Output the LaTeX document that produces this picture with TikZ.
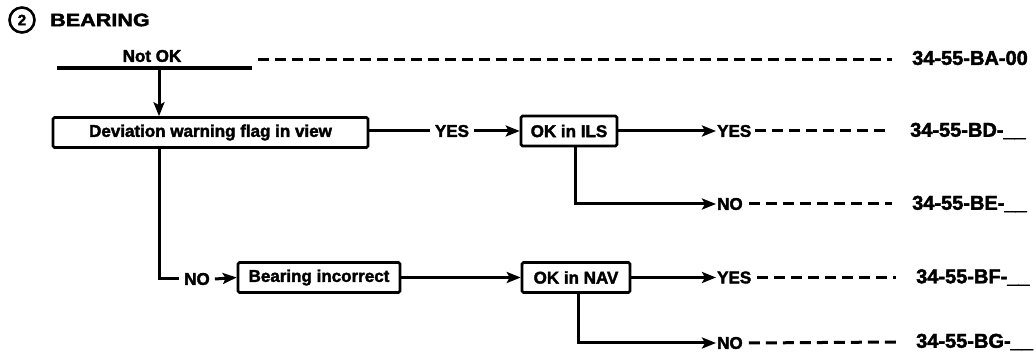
\documentclass[tikz,border=0pt]{standalone}
\usepackage{fontspec}
\setmainfont{Liberation Sans}
\newcommand{\hvy}{\bfseries\addfontfeature{FakeBold=2.2}}
\usepackage{tikz}
\usetikzlibrary{arrows.meta, positioning}
\tikzset{
  tbox/.style={draw, line width=2.6pt, rounded corners=1.5pt, inner sep=0pt,
    minimum height=30pt, font=\fontsize{17}{20}\selectfont\hvy},
  lbl/.style={font=\fontsize{17}{20}\selectfont\hvy, inner sep=1pt},
  code/.style={font=\fontsize{20}{24}\selectfont\hvy, anchor=west, inner sep=0pt},
  flow/.style={line width=3pt},
  fl/.style={flow, -{Stealth[length=14pt, width=11pt, inset=3pt]}},
  lead/.style={line width=3pt, dash pattern=on 11pt off 6pt},
}

\begin{document}
\begin{tikzpicture}[x=1pt, y=-1pt]
  \useasboundingbox (0,0) rectangle (1036,352);
  % title
  \node[draw, circle, line width=2.6pt, minimum size=25pt, inner sep=0pt,
    font=\fontsize{15}{18}\selectfont\hvy] (num) at (22,20) {2};
  \node[anchor=west, inner sep=0pt,
    font=\fontsize{18}{20}\selectfont\hvy\addfontfeature{FakeStretch=1.2}] (ttl) at (50,20) {BEARING};
  % not ok
  \node[lbl] (notok) at (152,56) {Not OK};
  \coordinate (nl) at (57,68);
  \coordinate (nr) at (252,68);
  \coordinate (nk) at (159,68);
  \coordinate (nd) at (258,60);
  \draw[line width=3.6pt] (nl) -- (nr);
  \node[code] (ba) at (912,58) {34-55-BA-00};
  \draw[lead] (nd) -- ([xshift=-20pt]ba.west |- nd);
  % deviation flag
  \node[tbox, minimum width=315pt] (dev) at (210.5,132.5) {Deviation warning flag in view};
  \draw[fl] (nk) -- (dev.north -| nk);
  \node[lbl, inner xsep=5pt] (yes1) at (452,131) {YES};
  \node[tbox, minimum width=96pt] (ils) at (569,131) {OK in ILS};
  \draw[flow] (dev.east |- yes1) -- (yes1.west);
  \draw[fl] (yes1.east) -- (ils.west);
  % ils outcomes
  \node[lbl, anchor=west] (yes2) at (716,131) {YES};
  \node[code] (bd) at (910,131) {34-55-BD-\_\_};
  \draw[fl] (ils.east) -- (yes2.west);
  \draw[lead] ([xshift=3pt]yes2.east) -- ([xshift=-20pt]bd.west);
  \node[lbl, anchor=west] (no2) at (716,204) {NO};
  \node[code] (be) at (912,204) {34-55-BE-\_\_};
  \draw[fl] ([xshift=6pt]ils.south) |- (no2.west);
  \draw[lead] ([xshift=5pt]no2.east) -- ([xshift=-20pt]be.west);
  % bearing incorrect
  \node[lbl, inner xsep=5pt] (no1) at (197,279) {NO};
  \node[tbox, minimum width=162pt] (brg) at (319,277.5) {Bearing incorrect};
  \draw[flow] ([xshift=-51.5pt]dev.south) |- (no1.west);
  \draw[fl] (no1.east) -- (brg.west);
  \node[tbox, minimum width=108pt] (nav) at (576,277.5) {OK in NAV};
  \draw[fl] (brg.east) -- (nav.west);
  % nav outcomes
  \node[lbl, anchor=west] (yes3) at (716,277.5) {YES};
  \node[code] (bf) at (916,277.5) {34-55-BF-\_\_};
  \draw[fl] (nav.east) -- (yes3.west);
  \draw[lead] ([xshift=5pt]yes3.east) -- ([xshift=-20pt]bf.west);
  \node[lbl, anchor=west] (no3) at (716,343) {NO};
  \node[code] (bg) at (916,342) {34-55-BG-\_\_};
  \draw[fl] ([xshift=2pt]nav.south) |- (no3.west);
  \draw[lead] ([xshift=5pt]no3.east) -- ([xshift=-20pt]bg.west);
\end{tikzpicture}
\end{document}
